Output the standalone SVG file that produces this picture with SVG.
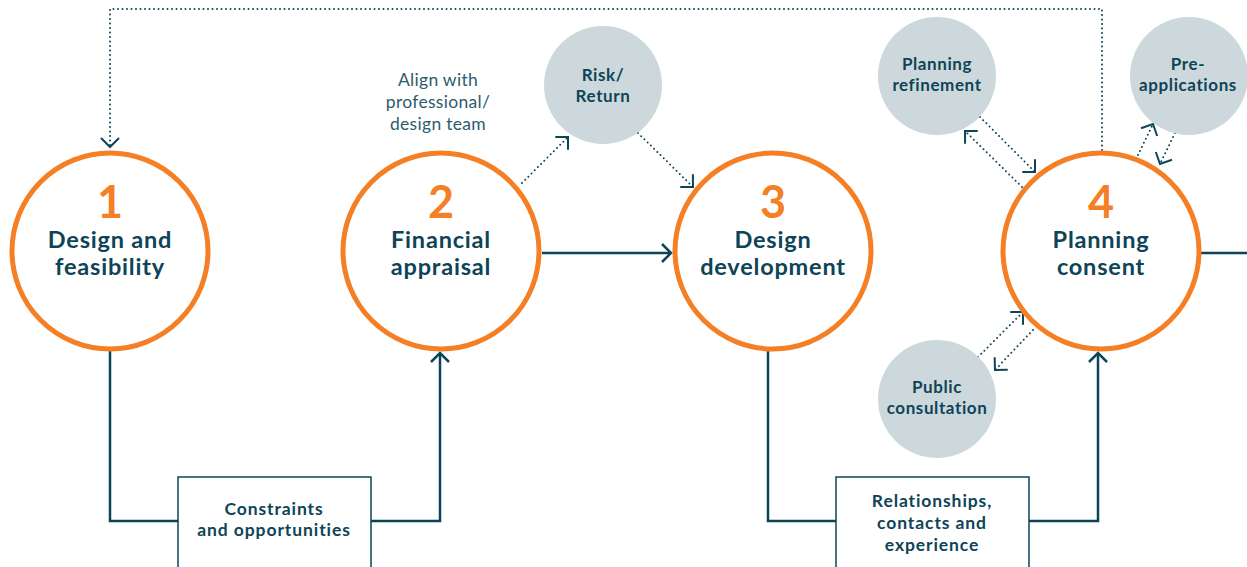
<svg xmlns="http://www.w3.org/2000/svg" width="1247" height="567" viewBox="0 0 1247 567">
<style>
text{font-variant-ligatures:none}
.stage{fill:#ffffff;stroke:#f47f24;stroke-width:5}
.sub{fill:#cdd8dc;stroke:none}
.num{font-family:Lato,"Liberation Sans",sans-serif;font-weight:700;font-size:45px;fill:#f47f24;text-anchor:middle}
.lbl{font-family:Lato,"Liberation Sans",sans-serif;font-weight:700;font-size:23.5px;letter-spacing:0.8px;fill:#0d4457;text-anchor:middle}
.sl{font-family:Lato,"Liberation Sans",sans-serif;font-weight:700;font-size:17px;letter-spacing:0.6px;fill:#0d4457;text-anchor:middle}
.bl{font-family:Lato,"Liberation Sans",sans-serif;font-weight:700;font-size:17.5px;letter-spacing:0.9px;fill:#0d4457;text-anchor:middle}
.note{font-family:Lato,"Liberation Sans",sans-serif;font-weight:400;font-size:17.5px;letter-spacing:0.3px;fill:#2d5c6c;text-anchor:middle}
.box{fill:#ffffff;stroke:#0d4457;stroke-width:1.5}
.solid{fill:none;stroke:#0d4457;stroke-width:2.5}
.dot{fill:none;stroke:#0d4457;stroke-width:2;stroke-dasharray:0 4.5;stroke-linecap:round}
.mk{fill:none;stroke:#0d4457;stroke-dasharray:none}
</style>
<defs>
<marker id="ah" markerUnits="userSpaceOnUse" markerWidth="30" markerHeight="30" viewBox="-15 -15 30 30" refX="0" refY="0" orient="auto">
<path class="mk" d="M-9,-9 L0,0 L-9,9" stroke-width="2.5"/>
</marker>
<marker id="ad" markerUnits="userSpaceOnUse" markerWidth="30" markerHeight="30" viewBox="-15 -15 30 30" refX="0" refY="0" orient="auto">
<path class="mk" d="M-9,-9 L0,0 L-9,9" stroke-width="2"/>
</marker>
</defs>
<g id="connectors">
<path class="dot" d="M1102,150 L1102,9 L110,9 L110,147" marker-end="url(#ad)"/>
<path class="solid" d="M542,253 L671,253" marker-end="url(#ah)"/>
<path class="solid" d="M110,350 L110,521 L178,521"/>
<path class="solid" d="M371,521 L440,521 L440,353" marker-end="url(#ah)"/>
<path class="solid" d="M768,350 L768,521 L836,521"/>
<path class="solid" d="M1029,521 L1098,521 L1098,353" marker-end="url(#ah)"/>
<path class="solid" d="M1201,253 L1247,253"/>
<path class="dot" d="M522,183 L568,137" marker-end="url(#ad)"/>
<path class="dot" d="M638,133 L693,187" marker-end="url(#ad)"/>
<path class="dot" d="M980,117 L1035,172" marker-end="url(#ad)"/>
<path class="dot" d="M1022,187 L965,131" marker-end="url(#ad)"/>
<path class="dot" d="M1138,155 L1153,124" marker-end="url(#ad)"/>
<path class="dot" d="M1175,133 L1160,164" marker-end="url(#ad)"/>
<path class="dot" d="M978,357 L1023,312" marker-end="url(#ad)"/>
<path class="dot" d="M1033,330 L995,370" marker-end="url(#ad)"/>
</g>
<g id="node-1">
<circle class="stage" cx="110" cy="251" r="98"/>
<text class="num" x="110" y="218">1</text>
<text class="lbl" x="110" y="248">Design and</text>
<text class="lbl" x="110" y="275">feasibility</text>
</g>
<g id="node-2">
<circle class="stage" cx="441" cy="251" r="98"/>
<text class="num" x="441" y="218">2</text>
<text class="lbl" x="441" y="248">Financial</text>
<text class="lbl" x="441" y="275">appraisal</text>
</g>
<g id="node-3">
<circle class="stage" cx="773" cy="251" r="98"/>
<text class="num" x="773" y="218">3</text>
<text class="lbl" x="773" y="248">Design</text>
<text class="lbl" x="773" y="275">development</text>
</g>
<g id="node-4">
<circle class="stage" cx="1101" cy="251" r="98"/>
<text class="num" x="1101" y="218">4</text>
<text class="lbl" x="1101" y="248">Planning</text>
<text class="lbl" x="1101" y="275">consent</text>
</g>
<g id="note-align">
<text class="note" x="438" y="86">Align with</text>
<text class="note" x="438" y="108">professional/</text>
<text class="note" x="438" y="130">design team</text>
</g>
<g id="node-risk">
<circle class="sub" cx="603" cy="85" r="59"/>
<text class="sl" x="603" y="81">Risk/</text>
<text class="sl" x="603" y="102">Return</text>
</g>
<g id="node-refinement">
<circle class="sub" cx="937" cy="76" r="59"/>
<text class="sl" x="937" y="70">Planning</text>
<text class="sl" x="937" y="91">refinement</text>
</g>
<g id="node-preapp">
<circle class="sub" cx="1189" cy="76" r="59"/>
<text class="sl" x="1188" y="70">Pre-</text>
<text class="sl" x="1188" y="91">applications</text>
</g>
<g id="node-public">
<circle class="sub" cx="937" cy="399" r="59"/>
<text class="sl" x="937" y="393">Public</text>
<text class="sl" x="937" y="414">consultation</text>
</g>
<g id="node-constraints">
<rect class="box" x="178" y="477" width="193" height="96"/>
<text class="bl" x="274" y="515">Constraints</text>
<text class="bl" x="274" y="536">and opportunities</text>
</g>
<g id="node-relationships">
<rect class="box" x="836" y="477" width="193" height="96"/>
<text class="bl" x="932" y="507">Relationships,</text>
<text class="bl" x="932" y="529">contacts and</text>
<text class="bl" x="932" y="551">experience</text>
</g>
</svg>
